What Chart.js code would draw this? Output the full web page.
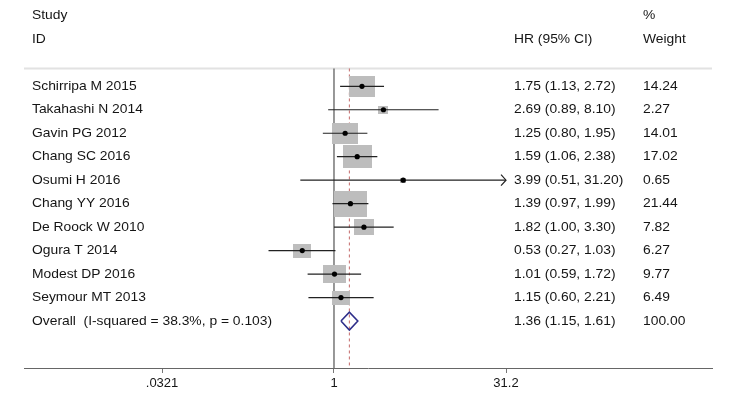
<!DOCTYPE html>
<html lang="en">
<head>
    <meta charset="UTF-8">
    <title>Forest plot</title>
    <script src="https://cdn.jsdelivr.net/npm/chart.js@4.4.0/dist/chart.umd.min.js"></script>
    <style>
        body { margin: 0; background: #fff; }
        canvas { display: block; }
    </style>
</head>
<body>
    <canvas id="forest" width="734" height="406"></canvas>

    <script>
        // Datos del gráfico
        const studies = ['Schirripa M 2015', 'Takahashi N 2014', 'Gavin PG 2012', 'Chang SC 2016', 'Osumi H 2016',
                         'Chang YY 2016', 'De Roock W 2010', 'Ogura T 2014', 'Modest DP 2016', 'Seymour MT 2013'];
        const hr      = [1.75, 2.69, 1.25, 1.59, 3.99, 1.39, 1.82, 0.53, 1.01, 1.15];
        const lower   = [1.13, 0.89, 0.80, 1.06, 0.51, 0.97, 1.00, 0.27, 0.59, 0.60];
        const upper   = [2.72, 8.10, 1.95, 2.38, 31.20, 1.99, 3.30, 1.03, 1.72, 2.21];
        const weights = [14.24, 2.27, 14.01, 17.02, 0.65, 21.44, 7.82, 6.27, 9.77, 6.49];

        const overallLabel = 'Overall  (I-squared = 38.3%, p = 0.103)';
        const overallHR = 1.36;
        const overallLower = 1.15;
        const overallUpper = 1.61;
        const overallWeight = 100.00;

        const tickValues = [0.0321, 1, 31.2];
        const tickLabels = ['.0321', '1', '31.2'];

        // Estilo / posiciones
        const FONT = '13px "Liberation Sans", Arial, sans-serif';
        const TEXT = '#151515';
        const TEXT_STRETCH = 1.065;
        const xMin = 0.00203, xMax = 1920;
        const yTop = -3.42, yBottom = 12;
        const headerLineY = -0.76;
        const diamondHalf = 0.38;
        const overallRow = studies.length;

        // Cajas grises (área proporcional al peso)
        const boxCache = {};
        function boxImage(w) {
            if (boxCache[w]) return boxCache[w];
            const h = Math.max(2, Math.round(5.6 * Math.sqrt(w)));
            const c = document.createElement('canvas');
            c.width = Math.round(h * 1.25);
            c.height = h;
            const g = c.getContext('2d');
            g.fillStyle = '#bdbdbd';
            g.fillRect(0, 0, c.width, c.height);
            boxCache[w] = c;
            return c;
        }

        // Líneas de IC con cortes entre filas
        const ciData = [];
        studies.forEach((s, i) => {
            ciData.push({ x: lower[i], y: i }, { x: upper[i], y: i }, { x: null, y: null });
        });

        const pointData = hr.map((v, i) => ({ x: v, y: i }));
        const boxData = hr.map((v, i) => ({ x: v, y: i, w: weights[i] }));
        const diamondData = [
            { x: overallLower, y: overallRow },
            { x: overallHR, y: overallRow - diamondHalf },
            { x: overallUpper, y: overallRow },
            { x: overallHR, y: overallRow + diamondHalf },
            { x: overallLower, y: overallRow }
        ];

        function drawText(ctx, txt, x, y) {
            ctx.save();
            ctx.translate(x, y);
            ctx.scale(TEXT_STRETCH, 1);
            ctx.fillText(txt, 0, 0);
            ctx.restore();
        }

        const textPlugin = {
            id: 'forestText',
            beforeDatasetsDraw(chart) {
                const { ctx, chartArea, scales } = chart;
                const y = scales.y.getPixelForValue(headerLineY);
                ctx.save();
                ctx.strokeStyle = '#e2e2e2';
                ctx.lineWidth = 2;
                ctx.beginPath();
                ctx.moveTo(chartArea.left, y);
                ctx.lineTo(chartArea.right, y);
                ctx.stroke();
                ctx.restore();
            },
            afterDatasetsDraw(chart) {
                const { ctx, scales } = chart;
                const ys = scales.y, xs = scales.x;
                const colStudy = 32, colHR = 514, colW = 643;
                ctx.save();
                ctx.font = FONT;
                ctx.fillStyle = TEXT;
                ctx.textBaseline = 'middle';
                ctx.textAlign = 'left';

                drawText(ctx, 'Study', colStudy, ys.getPixelForValue(-3));
                drawText(ctx, 'ID', colStudy, ys.getPixelForValue(-2));
                drawText(ctx, 'HR (95% CI)', colHR, ys.getPixelForValue(-2));
                drawText(ctx, '%', colW, ys.getPixelForValue(-3));
                drawText(ctx, 'Weight', colW, ys.getPixelForValue(-2));

                studies.forEach((s, i) => {
                    const py = ys.getPixelForValue(i);
                    drawText(ctx, s, colStudy, py);
                    drawText(ctx, `${hr[i].toFixed(2)} (${lower[i].toFixed(2)}, ${upper[i].toFixed(2)})`, colHR, py);
                    drawText(ctx, weights[i].toFixed(2), colW, py);
                });
                const po = ys.getPixelForValue(overallRow);
                drawText(ctx, overallLabel, colStudy, po);
                drawText(ctx, `${overallHR.toFixed(2)} (${overallLower.toFixed(2)}, ${overallUpper.toFixed(2)})`, colHR, po);
                drawText(ctx, overallWeight.toFixed(2), colW, po);

                // Flecha cuando el IC llega al límite del eje
                ctx.strokeStyle = '#222';
                ctx.lineWidth = 1.2;
                const lastTick = tickValues[tickValues.length - 1];
                upper.forEach((u, i) => {
                    if (u >= lastTick) {
                        const px = xs.getPixelForValue(lastTick);
                        const py = ys.getPixelForValue(i);
                        ctx.beginPath();
                        ctx.moveTo(px - 5, py - 5.5);
                        ctx.lineTo(px, py);
                        ctx.lineTo(px - 5, py + 5.5);
                        ctx.stroke();
                    }
                });
                ctx.restore();
            }
        };

        new Chart(document.getElementById('forest'), {
            type: 'scatter',
            data: {
                datasets: [
                    {
                        data: pointData,
                        pointRadius: 2.6,
                        pointBackgroundColor: '#000',
                        pointBorderWidth: 0,
                        order: 1
                    },
                    {
                        data: diamondData,
                        showLine: true,
                        borderColor: '#2e2e8a',
                        borderWidth: 1.6,
                        pointRadius: 0,
                        tension: 0,
                        order: 2
                    },
                    {
                        data: ciData,
                        showLine: true,
                        spanGaps: false,
                        borderColor: '#222',
                        borderWidth: 1.2,
                        pointRadius: 0,
                        order: 3
                    },
                    {
                        data: boxData,
                        pointStyle: ctx => ctx.raw ? boxImage(ctx.raw.w) : 'rect',
                        pointRadius: 5,
                        order: 5
                    },
                    {
                        data: [{ x: overallHR, y: headerLineY }, { x: overallHR, y: yBottom }],
                        showLine: true,
                        borderColor: '#c46a6a',
                        borderWidth: 1,
                        borderDash: [3, 3],
                        pointRadius: 0,
                        order: 6
                    },
                    {
                        data: [{ x: 1, y: headerLineY }, { x: 1, y: yBottom }],
                        showLine: true,
                        borderColor: '#555',
                        borderWidth: 1.2,
                        pointRadius: 0,
                        order: 7
                    }
                ]
            },
            options: {
                responsive: false,
                animation: false,
                layout: { padding: { left: 24, right: 22, top: 0, bottom: 0 } },
                plugins: {
                    legend: { display: false },
                    tooltip: { enabled: false }
                },
                scales: {
                    x: {
                        type: 'logarithmic',
                        min: xMin,
                        max: xMax,
                        afterBuildTicks: s => { s.ticks = tickValues.map(v => ({ value: v })); },
                        afterFit: s => { s.height = 38; },
                        ticks: {
                            autoSkip: false,
                            maxRotation: 0,
                            padding: 3,
                            color: TEXT,
                            font: { family: '"Liberation Sans", Arial, sans-serif', size: 13 },
                            callback: (v, i) => tickLabels[i]
                        },
                        grid: {
                            drawOnChartArea: false,
                            drawTicks: true,
                            tickLength: 5,
                            color: '#777'
                        },
                        border: { display: true, color: '#666', width: 1 }
                    },
                    y: {
                        type: 'linear',
                        reverse: true,
                        min: yTop,
                        max: yBottom,
                        display: false
                    }
                }
            },
            plugins: [textPlugin]
        });
    </script>
</body>
</html>
